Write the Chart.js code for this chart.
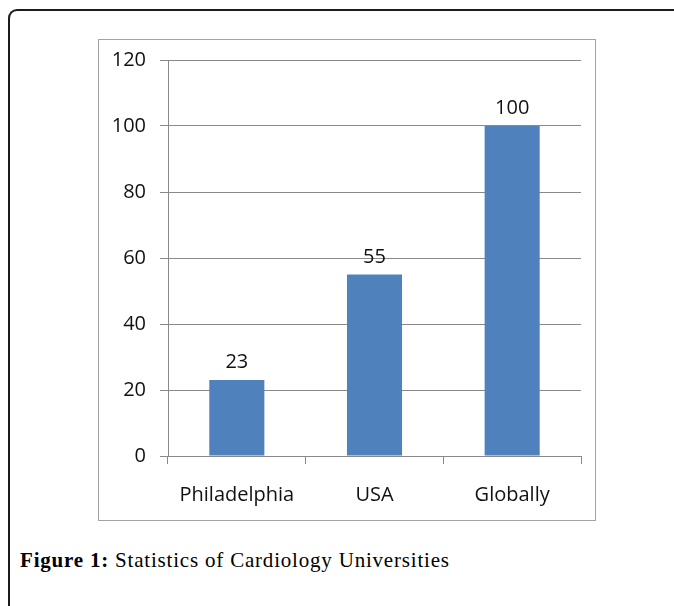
<!DOCTYPE html>
<html lang="en">
<head>
<meta charset="UTF-8">
<title>Statistics of Cardiology Universities</title>
<script src="https://cdn.jsdelivr.net/npm/chart.js"></script>
<style>
    body { margin: 0; background: #fff; width: 674px; height: 606px; overflow: hidden; position: relative; }
    /* outer figure frame, only top and left edges visible */
    #frame {
        position: absolute; left: 8px; top: 9px; width: 720px; height: 720px;
        border-top: 2px solid #1c1c1c; border-left: 2px solid #1c1c1c;
        border-top-left-radius: 9px;
    }
    #box {
        position: absolute; left: 98px; top: 39px; width: 498px; height: 482px;
        border: 1px solid #a3a3a3; box-sizing: border-box;
    }
    #chart { position: absolute; left: 99px; top: 40px; }
    #caption {
        position: absolute; left: 20px; top: 548px; line-height: 24px;
        font-family: "Liberation Serif", serif; font-size: 21px; letter-spacing: 0.8px; color: #000;
        white-space: nowrap;
    }
</style>
</head>
<body>
<div id="frame"></div>
<div id="box"></div>
<canvas id="chart" width="496" height="480"></canvas>
<div id="caption"><b>Figure 1:</b> Statistics of Cardiology Universities</div>

<script>
    // data
    const categories = ['Philadelphia', 'USA', 'Globally'];
    const values = [23, 55, 100];
    const yTicks = [0, 20, 40, 60, 80, 100, 120];

    const font = { family: '"Open Sans", sans-serif', size: 20 };
    const gridColor = '#898989';
    const textColor = '#111';

    // simple value labels above each bar
    const barLabels = {
        id: 'barLabels',
        afterDatasetsDraw(chart) {
            const ctx = chart.ctx;
            const meta = chart.getDatasetMeta(0);
            ctx.save();
            ctx.font = font.size + 'px ' + font.family;
            ctx.fillStyle = textColor;
            ctx.textAlign = 'center';
            ctx.textBaseline = 'alphabetic';
            meta.data.forEach((bar, i) => {
                ctx.fillText(values[i], bar.x, bar.y - 12);
            });
            ctx.restore();
        }
    };

    new Chart(document.getElementById('chart'), {
        type: 'bar',
        data: {
            labels: categories,
            datasets: [{
                data: values,
                backgroundColor: '#4f81bd',
                borderWidth: 0,
                categoryPercentage: 1,
                barPercentage: 0.4
            }]
        },
        options: {
            responsive: false,
            animation: false,
            layout: { padding: { top: 20, right: 14, bottom: 0, left: 0 } },
            plugins: { legend: { display: false }, tooltip: { enabled: false } },
            scales: {
                x: {
                    grid: { offset: true, drawOnChartArea: false, drawTicks: true, tickLength: 8, color: gridColor },
                    border: { color: gridColor },
                    ticks: { font: font, color: textColor, padding: 19, maxRotation: 0 },
                    afterFit(scale) { scale.height = 64; scale.paddingLeft = 0; scale.paddingRight = 0; }
                },
                y: {
                    min: 0,
                    max: 120,
                    afterBuildTicks(scale) { scale.ticks = yTicks.map(v => ({ value: v })); },
                    grid: { color: gridColor, tickLength: 8 },
                    border: { color: gridColor },
                    ticks: { font: font, color: textColor, padding: 14 },
                    afterFit(scale) { scale.width = 69; scale.paddingTop = 0; scale.paddingBottom = 0; }
                }
            }
        },
        plugins: [barLabels]
    });
</script>
</body>
</html>
